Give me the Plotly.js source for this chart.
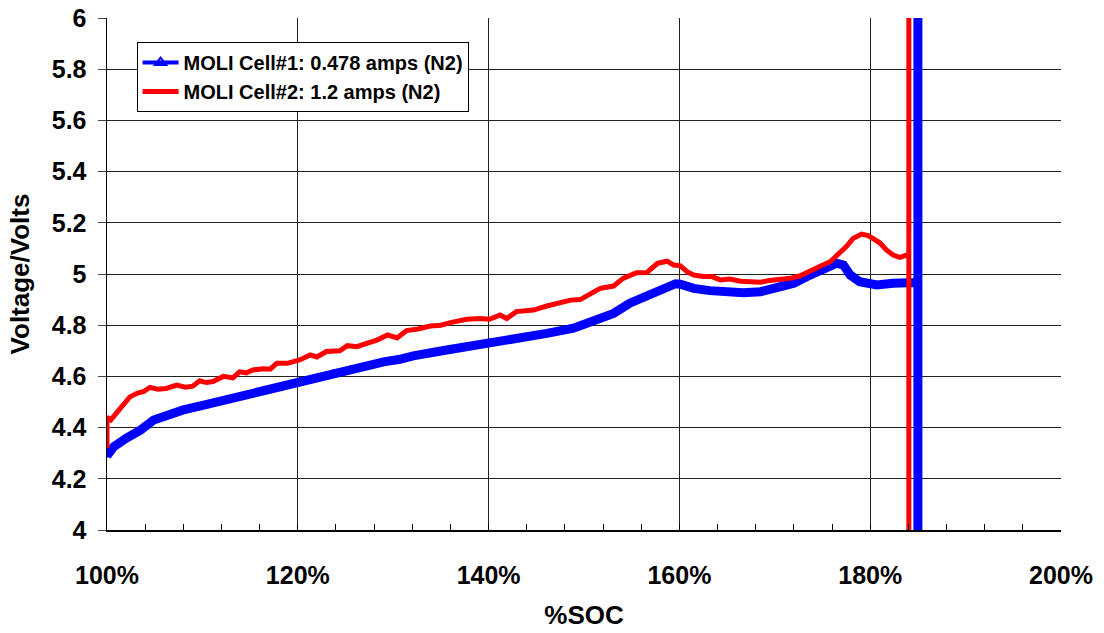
<!DOCTYPE html>
<html>
<head>
<meta charset="utf-8">
<script src="https://cdn.plot.ly/plotly-3.0.1.min.js"></script>
<style>
  html, body { margin: 0; padding: 0; background: #fff; }
  #chart { width: 1104px; height: 633px; }
</style>
</head>
<body>
<div id="chart"></div>
<script>
// Overcharge test of two MOLI cells under N2: voltage vs state of charge (%)
const cell1Name = 'MOLI Cell#1: 0.478 amps (N2)';
const cell2Name = 'MOLI Cell#2: 1.2 amps (N2)';

const cell1Soc = [
  100.0, 100.7, 102.0, 103.5, 104.9, 106.2, 108.0, 109.7, 111.5, 113.2,
  115.0, 116.7, 118.5, 120.2, 122.0, 123.7, 125.5, 127.2, 129.0, 130.7,
  132.1, 135.6, 139.1, 142.6, 146.1, 148.9, 151.3, 153.1, 154.8, 156.6,
  158.3, 159.6, 160.1, 161.5, 163.2, 165.0, 166.7, 168.5, 170.2, 172.0,
  173.7, 175.5, 176.5, 177.2, 177.9, 178.9, 180.7, 182.4, 184.2, 185.0,
  185.0, 185.0
];
const cell1Volts = [
  4.290, 4.325, 4.358, 4.390, 4.430, 4.449, 4.469, 4.484, 4.500, 4.517,
  4.534, 4.550, 4.566, 4.586, 4.600, 4.615, 4.632, 4.645, 4.657, 4.667,
  4.680, 4.703, 4.723, 4.745, 4.768, 4.788, 4.820, 4.846, 4.886, 4.918,
  4.944, 4.962, 4.960, 4.944, 4.935, 4.927, 4.927, 4.931, 4.944, 4.964,
  4.996, 5.022, 5.042, 5.035, 4.996, 4.970, 4.957, 4.964, 4.967, 4.967,
  6.300, 3.700
];

const cell2Soc = [
  100.0, 100.0, 100.4, 101.0, 101.5, 102.4, 103.2, 103.8, 104.5, 105.3,
  106.2, 107.3, 108.2, 109.0, 109.7, 110.4, 111.1, 112.2, 113.2, 113.9,
  114.6, 115.3, 116.4, 117.1, 117.8, 118.9, 120.2, 121.3, 122.0, 123.0,
  124.4, 125.2, 126.2, 127.3, 128.3, 129.4, 130.4, 131.4, 132.6, 133.9,
  135.0, 136.0, 137.7, 139.1, 140.1, 141.2, 141.9, 142.9, 144.7, 146.1,
  147.5, 148.6, 149.6, 150.7, 151.7, 153.1, 154.1, 155.5, 156.6, 157.7,
  158.7, 159.4, 160.1, 160.8, 161.5, 162.5, 163.4, 164.3, 165.3, 166.4,
  167.4, 168.5, 169.5, 170.5, 171.6, 172.6, 173.7, 174.7, 175.8, 176.8,
  177.5, 178.2, 179.1, 179.8, 180.4, 181.0, 181.7, 182.4, 183.1, 183.8,
  184.05, 184.05, 184.05
];
const cell2Volts = [
  4.320, 4.440, 4.430, 4.460, 4.480, 4.520, 4.535, 4.540, 4.557, 4.550,
  4.553, 4.566, 4.558, 4.562, 4.583, 4.576, 4.580, 4.600, 4.594, 4.618,
  4.614, 4.625, 4.630, 4.628, 4.651, 4.651, 4.664, 4.684, 4.676, 4.697,
  4.700, 4.720, 4.716, 4.730, 4.742, 4.762, 4.750, 4.779, 4.785, 4.797,
  4.800, 4.810, 4.823, 4.826, 4.823, 4.840, 4.826, 4.853, 4.859, 4.875,
  4.886, 4.898, 4.900, 4.925, 4.944, 4.953, 4.983, 5.005, 5.006, 5.042,
  5.050, 5.035, 5.032, 5.009, 4.996, 4.990, 4.990, 4.977, 4.980, 4.972,
  4.970, 4.968, 4.975, 4.979, 4.983, 4.992, 5.009, 5.029, 5.048, 5.080,
  5.107, 5.139, 5.156, 5.150, 5.133, 5.122, 5.094, 5.074, 5.065, 5.074,
  5.070, 6.300, 3.700
];

const xTickVals = [100, 120, 140, 160, 180, 200];
const xTickText = ['100%', '120%', '140%', '160%', '180%', '200%'];
const yTickVals = [4, 4.2, 4.4, 4.6, 4.8, 5, 5.2, 5.4, 5.6, 5.8, 6];
const yTickText = ['4', '4.2', '4.4', '4.6', '4.8', '5', '5.2', '5.4', '5.6', '5.8', '6'];

const FONT = 'Liberation Sans, Arial, sans-serif';
const BLUE = '#0000ff';
const RED = '#ff0000';

const traces = [
  // cell #1 curve: dense triangle markers merge into a thick band
  {
    x: cell1Soc, y: cell1Volts, name: cell1Name,
    type: 'scatter', mode: 'lines+markers',
    line: { color: BLUE, width: 9 },
    marker: { symbol: 'triangle-up', size: 7, color: BLUE },
    showlegend: false
  },
  // legend key for cell #1 (line with an open triangle marker)
  {
    x: [null], y: [null], name: cell1Name,
    type: 'scatter', mode: 'lines+markers',
    line: { color: BLUE, width: 4 },
    marker: { symbol: 'triangle-up-open', size: 10, color: BLUE, line: { width: 2 } },
    legendgroup: 'c1'
  },
  {
    x: cell2Soc, y: cell2Volts, name: cell2Name,
    type: 'scatter', mode: 'lines',
    line: { color: RED, width: 5 },
    legendgroup: 'c2'
  }
];

const layout = {
  width: 1104, height: 633,
  margin: { l: 107, r: 43, t: 18, b: 103, pad: 0 },
  paper_bgcolor: '#ffffff', plot_bgcolor: '#ffffff',
  font: { family: FONT, color: '#000', size: 20 },
  showlegend: true,
  legend: {
    x: 0.031, y: 0.953, xanchor: 'left', yanchor: 'top',
    bgcolor: '#ffffff', bordercolor: '#000', borderwidth: 1,
    font: { family: FONT, size: 20, color: '#000', weight: 'bold' },
    itemwidth: 36, tracegroupgap: 10, traceorder: 'normal'
  },
  xaxis: {
    range: [100, 200],
    tickmode: 'array', tickvals: xTickVals, ticktext: xTickText,
    ticks: 'inside', ticklen: 6, tickcolor: '#000', tickwidth: 1,
    minor: { tickmode: 'linear', tick0: 100, dtick: 4, ticks: 'inside', ticklen: 6, tickcolor: '#000', tickwidth: 1, showgrid: false },
    showgrid: true, gridcolor: '#222', gridwidth: 1,
    showline: true, linecolor: '#000', linewidth: 1.5,
    zeroline: false,
    tickfont: { family: FONT, size: 25, color: '#000', weight: 'bold' },
    ticklabelstandoff: 22,
    title: { text: '%SOC', font: { family: FONT, size: 26, color: '#000', weight: 'bold' }, standoff: 18 },
    automargin: false
  },
  yaxis: {
    range: [4, 6],
    tickmode: 'array', tickvals: yTickVals, ticktext: yTickText,
    ticks: 'outside', ticklen: 8, tickcolor: '#444', tickwidth: 1,
    showgrid: true, gridcolor: '#222', gridwidth: 1,
    showline: true, linecolor: '#000', linewidth: 1.5,
    zeroline: false,
    tickfont: { family: FONT, size: 25, color: '#000', weight: 'bold' },
    ticklabelstandoff: 6,
    title: { text: 'Voltage/Volts', font: { family: FONT, size: 26, color: '#000', weight: 'bold' }, standoff: 14 },
    automargin: false
  }
};

Plotly.newPlot('chart', traces, layout, { staticPlot: true, displayModeBar: false });
</script>
</body>
</html>
